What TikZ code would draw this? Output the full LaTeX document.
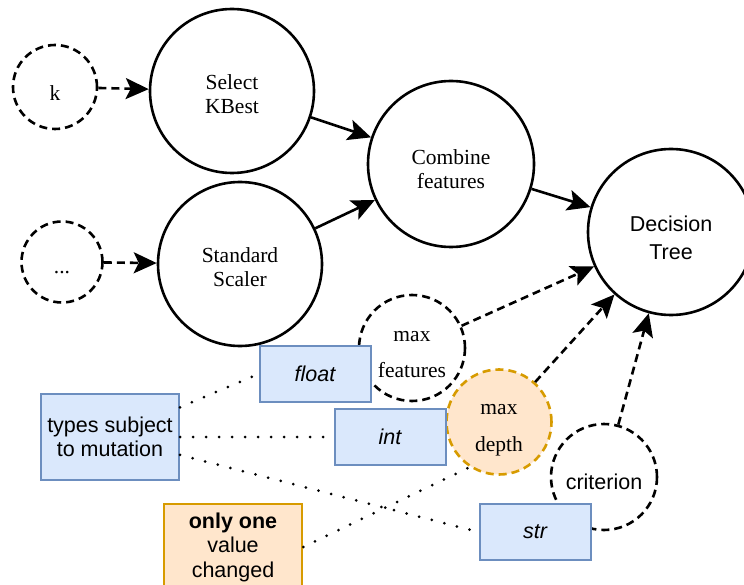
\documentclass[tikz,border=0pt]{standalone}
\usepackage{fontspec}
\setmainfont{Liberation Serif}
\setsansfont{Liberation Sans}
\usetikzlibrary{arrows.meta}
\definecolor{typefill}{HTML}{DAE8FC}
\definecolor{typeline}{HTML}{6C8EBF}
\definecolor{notefill}{HTML}{FFE6CC}
\definecolor{noteline}{HTML}{D79B00}
\newcommand{\lblsize}{\fontsize{21.5}{24.5}\selectfont}

\begin{document}
\begin{tikzpicture}[x=1pt,y=-1pt,
  >={Stealth[length=23pt,width=21pt,inset=5pt]},
  every node/.style={font=\lblsize, align=center, inner sep=0pt},
  % circle labels sit a little below the centre
  lowtext/.style={execute at begin node={\rule{0pt}{#1}}},
  stage/.style={circle, draw, line width=2.6pt, minimum size=164pt},
  hyper/.style={circle, draw, line width=2.6pt, dash pattern=on 8pt off 5pt, minimum size=84pt},
  sans/.style={font=\lblsize\sffamily},
  typebox/.style={rectangle, draw=typeline, fill=typefill, line width=2pt,
    minimum width=111pt, minimum height=56pt, font=\lblsize\sffamily\itshape},
  flow/.style={->, line width=2.6pt},
  tune/.style={->, line width=2.6pt, dash pattern=on 8pt off 5pt},
  link/.style={line width=3pt, line cap=round, dash pattern=on 0pt off 13pt}]
\useasboundingbox (0,0) rectangle (744,585);
% pipeline
\node[stage, lowtext=45.5pt] (kbest) at (232,91) {Select\\KBest};
\node[stage, lowtext=45.5pt] (scaler) at (240,264) {Standard\\Scaler};
\node[stage, lowtext=49.5pt, minimum size=166pt] (combine) at (451,164) {Combine\\features};
\node[stage, lowtext=54.5pt, minimum size=166pt, sans] (tree) at (671,232) {Decision\\[3pt]Tree};
% hyperparameters
\node[hyper, lowtext=27pt] (k) at (55,87) {k};
\node[hyper, lowtext=23pt, minimum size=81pt] (etc) at (62,262) {...};
\node[hyper, lowtext=59.5pt, minimum size=106pt] (maxfeat) at (412,348) {max\\[12pt]features};
\node[hyper, lowtext=63pt, minimum size=105pt, draw=noteline, fill=notefill] (maxdepth) at (499,422) {max\\[12pt]depth};
\node[hyper, lowtext=25pt, minimum size=106pt, sans] (crit) at (604,477) {criterion};
% types
\node[typebox] (float) at (315,374) {float};
\node[typebox] (int) at (390,437) {int};
\node[typebox] (str) at (535,532) {str};
\node[typebox, minimum width=138pt, minimum height=86pt, font=\lblsize\sffamily] (types) at (110,437) {types subject\\to mutation};
\node[rectangle, draw=noteline, fill=notefill, line width=2.5pt, minimum width=138pt, minimum height=86pt, font=\lblsize\sffamily] (onlyone) at (233,547) {\textbf{only one}\\value\\changed};

\draw[tune] (k) -- (kbest);
\draw[tune] (etc) -- (scaler);
\draw[flow] (kbest) -- (combine);
\draw[flow] (scaler) -- (combine);
\draw[flow] (combine) -- (tree);
\draw[tune] (maxfeat) -- (tree);
\draw[tune] (maxdepth) -- (tree);
\draw[tune] (crit) -- (tree);

\draw[link] (types) -- (float.west);
\draw[link] (types) -- (int);
\draw[link] (types) -- (str.west);
\draw[link] (onlyone.east) -- (maxdepth.237);
\end{tikzpicture}
\end{document}
